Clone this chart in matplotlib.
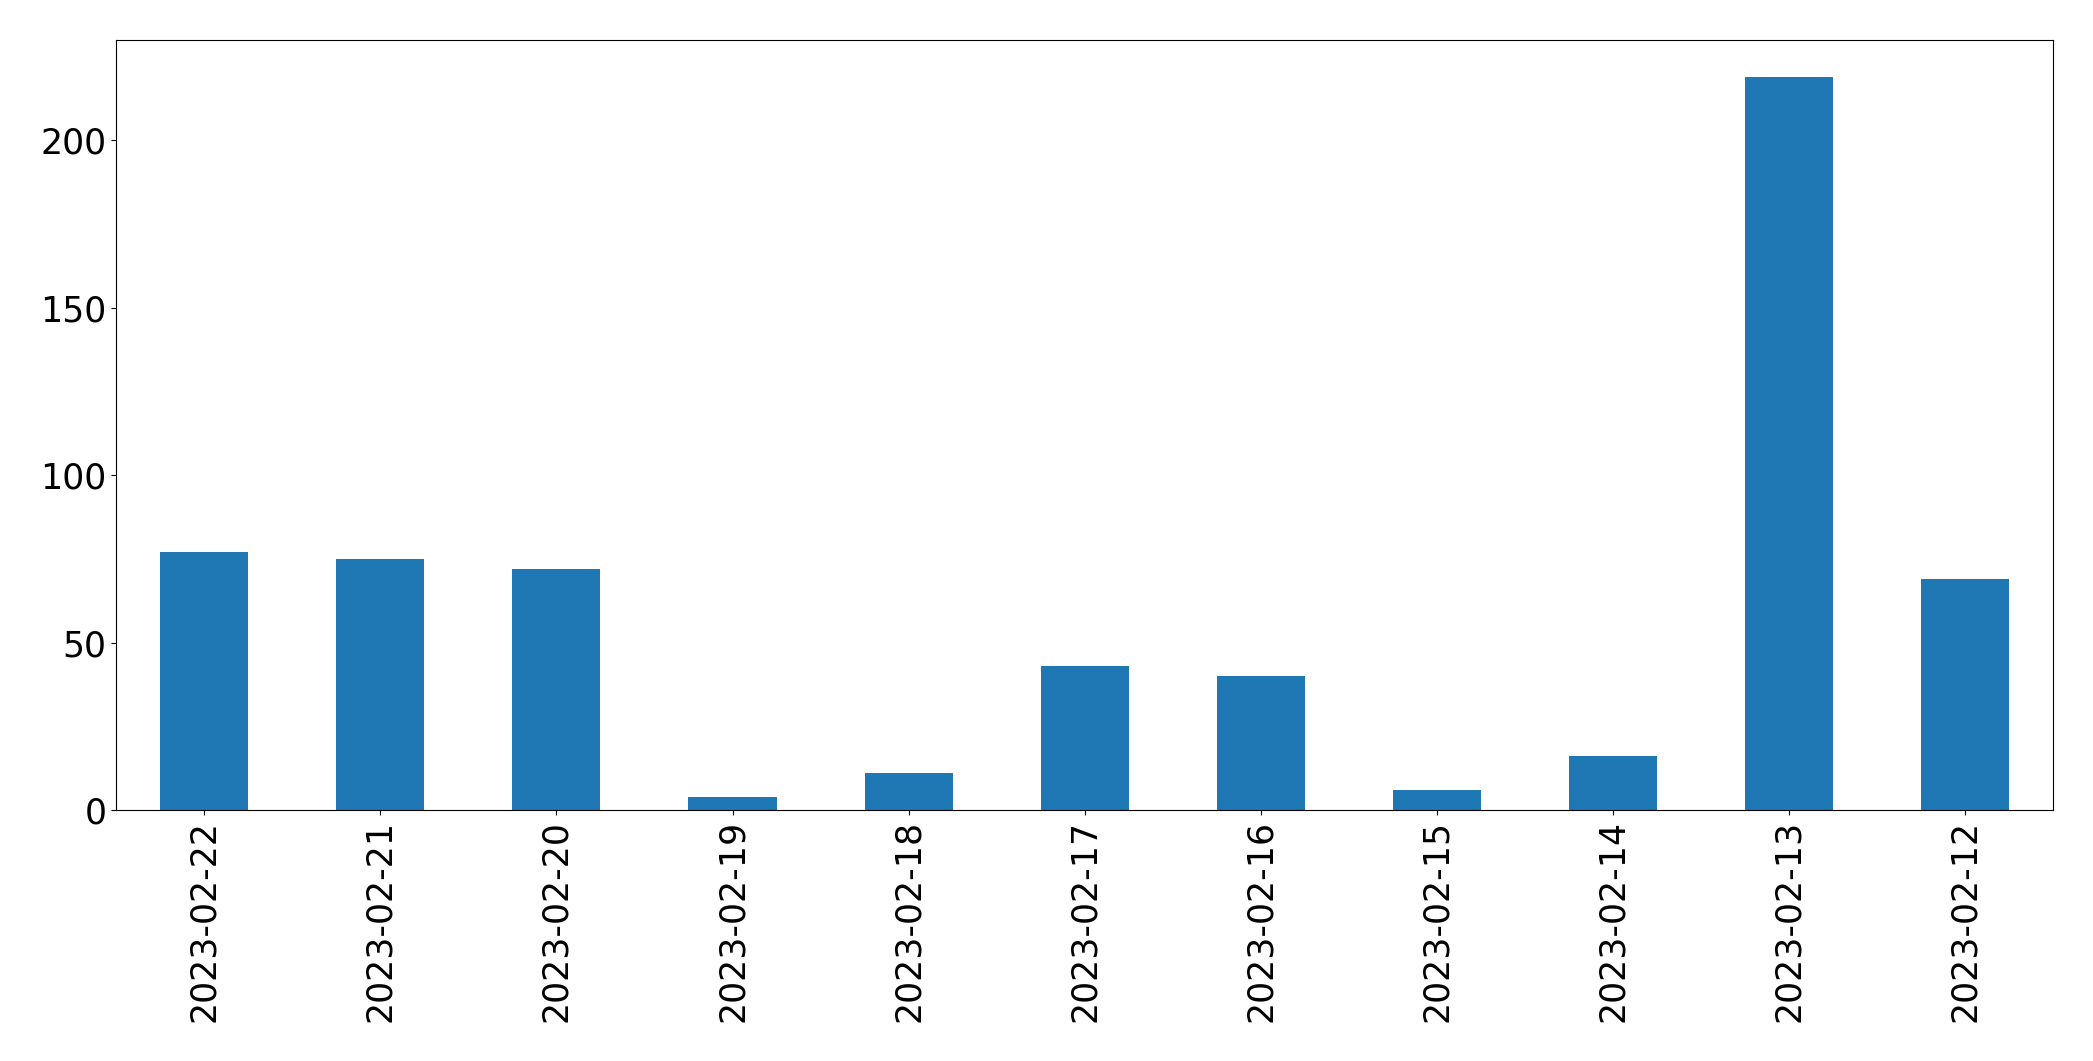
import matplotlib
matplotlib.use("Agg")
import matplotlib.pyplot as plt
import pandas as pd

# data
dates = ["2023-02-22", "2023-02-21", "2023-02-20", "2023-02-19", "2023-02-18",
         "2023-02-17", "2023-02-16", "2023-02-15", "2023-02-14", "2023-02-13",
         "2023-02-12"]
counts = [77, 75, 72, 4, 11, 43, 40, 6, 16, 219, 69]

s = pd.Series(counts, index=dates)

fig, ax = plt.subplots(figsize=(20.93, 10.61), dpi=100)
fig.subplots_adjust(left=0.0555, right=0.981, top=0.9623, bottom=0.2366)

s.plot.bar(ax=ax, color="#1f77b4")
ax.tick_params(axis="both", labelsize=25)
ax.set_xlabel("")

fig.savefig("out.png", dpi=100, facecolor="white")
